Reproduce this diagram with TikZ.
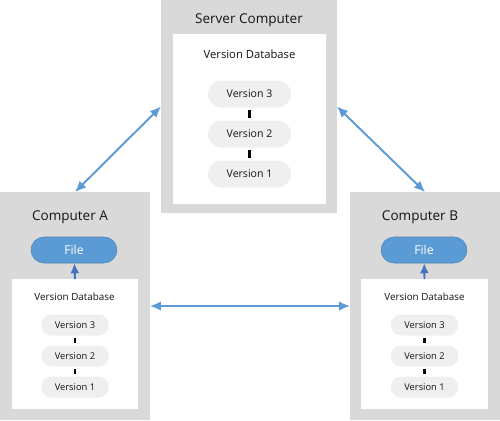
\documentclass[tikz,border=0pt]{standalone}
\usepackage{fontspec}
\setmainfont{Open Sans}
\usepackage{xcolor}
\usepackage{tikz}
\usetikzlibrary{arrows.meta,calc}

\definecolor{boxgray}{HTML}{D9D9D9}
\definecolor{pillgray}{HTML}{EFEFEF}
\definecolor{fileblue}{HTML}{5B9BD5}
\definecolor{linkblue}{HTML}{5B9BD5}
\definecolor{pushblue}{HTML}{4472C4}
\definecolor{inkgray}{HTML}{141414}

\begin{document}
\begin{tikzpicture}[x=0.02cm, y=-0.02cm,
  machine/.style={fill=boxgray, inner sep=0pt, outer sep=0pt},
  dbbox/.style={fill=white, inner sep=0pt, outer sep=0pt},
  title/.style={text=inkgray, font=\fontsize{7.7}{9}\selectfont},
  dbtitle/.style={text=inkgray},
  bigver/.style={fill=pillgray, rounded corners=0.27cm, minimum width=1.66cm,
                 minimum height=0.54cm, inner sep=0pt, text=inkgray,
                 font=\fontsize{6}{7}\selectfont},
  smallver/.style={fill=pillgray, rounded corners=0.21cm, minimum width=1.36cm,
                   minimum height=0.42cm, inner sep=0pt, text=inkgray,
                   font=\fontsize{5.3}{6}\selectfont},
  filepill/.style={fill=fileblue, draw=fileblue!85!black, line width=0.3pt,
                   rounded corners=0.26cm, minimum width=1.72cm,
                   minimum height=0.52cm, inner sep=0pt, text=white,
                   font=\fontsize{7}{8}\selectfont},
  tie/.style={black, line width=1.2pt, shorten <=1.1pt, shorten >=1.1pt},
  link/.style={linkblue, line width=1.1pt, {Latex[length=2.2mm,width=1.9mm]}-{Latex[length=2.2mm,width=1.9mm]}},
  push/.style={pushblue, line width=1.1pt, -{Latex[length=2mm,width=1.8mm]}}]
  \useasboundingbox (0,0) rectangle (500,420);

  % server
  \node[machine, minimum width=3.52cm, minimum height=4.26cm] (server) at (249,106.5) {};
  \node[title] (servername) at (249,20) {Server Computer};
  \node[dbbox, minimum width=3.06cm, minimum height=3.4cm] (dbS) at (249.5,119) {};
  \node[dbtitle, font=\fontsize{6.4}{8}\selectfont] (dbSname) at (249.5,54) {Version Database};
  \node[bigver] (s3) at (249.5,94)  {Version 3};
  \node[bigver] (s2) at (249.5,134) {Version 2};
  \node[bigver] (s1) at (249.5,174) {Version 1};
  \draw[tie] (s3) -- (s2);
  \draw[tie] (s2) -- (s1);

  % computer A
  \node[machine, minimum width=3cm, minimum height=4.56cm] (compA) at (75,306) {};
  \node[title] (compAname) at (70,217) {Computer A};
  \node[filepill] (fileA) at (74,250) {File};
  \node[dbbox, minimum width=2.52cm, minimum height=2.6cm] (dbA) at (75,344) {};
  \node[dbtitle, font=\fontsize{5.6}{7}\selectfont] (dbAname) at (74.5,297) {Version Database};
  \node[smallver] (a3) at (75,325) {Version 3};
  \node[smallver] (a2) at (75,356) {Version 2};
  \node[smallver] (a1) at (75,387) {Version 1};
  \draw[tie] (a3) -- (a2);
  \draw[tie] (a2) -- (a1);
  \draw[push] (dbA.north) -- (fileA);

  % computer B
  \node[machine, minimum width=3cm, minimum height=4.56cm] (compB) at (425,306) {};
  \node[title] (compBname) at (420,217) {Computer B};
  \node[filepill] (fileB) at (424,250) {File};
  \node[dbbox, minimum width=2.54cm, minimum height=2.6cm] (dbB) at (424.5,344) {};
  \node[dbtitle, font=\fontsize{5.6}{7}\selectfont] (dbBname) at (424.5,297) {Version Database};
  \node[smallver] (b3) at (424.5,325) {Version 3};
  \node[smallver] (b2) at (424.5,356) {Version 2};
  \node[smallver] (b1) at (424.5,387) {Version 1};
  \draw[tie] (b3) -- (b2);
  \draw[tie] (b2) -- (b1);
  \draw[push] (dbB.north) -- (fileB);

  % links
  \draw[link] (compA.north) -- (server.west);
  \draw[link] (server.east) -- (compB.north);
  \draw[link] (compA.east) -- (compB.west);
\end{tikzpicture}
\end{document}
